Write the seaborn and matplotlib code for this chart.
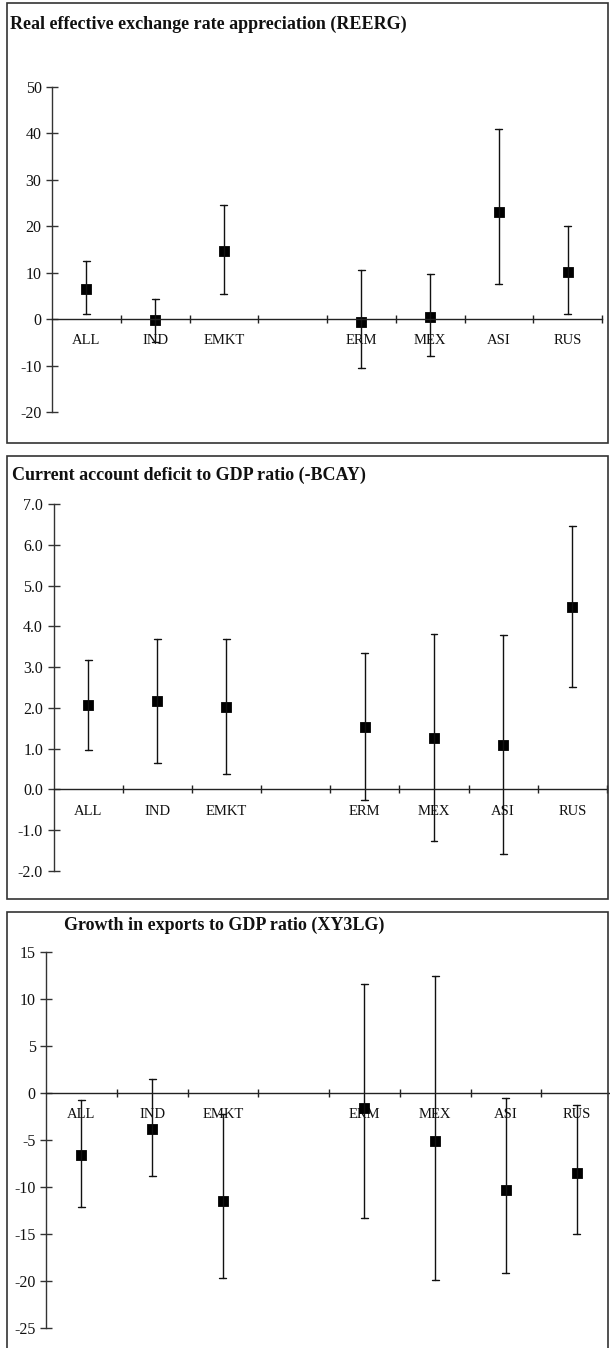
import numpy as np
import pandas as pd
import matplotlib
matplotlib.use("Agg")
import matplotlib.pyplot as plt
import matplotlib.patches as mpatches
from matplotlib.ticker import FormatStrFormatter, FixedLocator
import seaborn as sns

# ---------------- data ----------------
categories = ['ALL', 'IND', 'EMKT', 'ERM', 'MEX', 'ASI', 'RUS']
order = ['ALL', 'IND', 'EMKT', ' ', 'ERM', 'MEX', 'ASI', 'RUS']

reerg_mid = [6.5, -0.2, 14.6, -0.7, 0.5, 23.0, 10.2]
reerg_low = [1.0, -4.9, 5.4, -10.5, -8.0, 7.5, 1.2]
reerg_high = [12.5, 4.3, 24.6, 10.5, 9.7, 41.0, 20.1]

bcay_mid = [2.06, 2.16, 2.03, 1.54, 1.26, 1.10, 4.48]
bcay_low = [0.97, 0.64, 0.37, -0.26, -1.26, -1.58, 2.50]
bcay_high = [3.17, 3.70, 3.68, 3.35, 3.81, 3.79, 6.47]

xy3lg_mid = [-6.6, -3.8, -11.5, -1.6, -5.1, -10.3, -8.5]
xy3lg_low = [-12.1, -8.8, -19.7, -13.3, -19.9, -19.2, -15.0]
xy3lg_high = [-0.7, 1.5, -2.2, 11.6, 12.4, -0.5, -1.3]

titles = ['Real effective exchange rate appreciation (REERG)',
          'Current account deficit to GDP ratio (-BCAY)',
          'Growth in exports to GDP ratio (XY3LG)']
yticks_list = [list(range(-20, 51, 10)),
               [-2.0, -1.0, 0.0, 1.0, 2.0, 3.0, 4.0, 5.0, 6.0, 7.0],
               list(range(-25, 16, 5))]

# ---------------- style ----------------
sns.set_style("white")
plt.rcParams['font.family'] = ['Liberation Serif', 'DejaVu Serif']
plt.rcParams['axes.unicode_minus'] = False

W, H = 610, 1348
fig = plt.figure(figsize=(W / 100, H / 100), dpi=100)


def frac_rect(left, right, top, bottom):
    return [left / W, 1 - bottom / H, (right - left) / W, (bottom - top) / H]


# axes pixel layout (left, right, top, bottom)
ax_px = [(52, 602, 87, 412), (53.5, 607, 504, 871), (46, 612, 952, 1328)]
box_px = [(7, 608, 3, 443), (7, 608, 456, 899), (7, 608, 912, 1360)]
title_px = [(10, 24), (12, 475), (64, 925)]
ylims = [(-20, 50), (-2.0, 7.0), (-25, 15)]
fmts = ['%d', '%.1f', '%d']

series = [(reerg_low, reerg_mid, reerg_high),
          (bcay_low, bcay_mid, bcay_high),
          (xy3lg_low, xy3lg_mid, xy3lg_high)]

for i in range(3):
    low, mid, high = series[i]
    df = pd.DataFrame({
        'cat': categories * 3,
        'val': list(low) + list(mid) + list(high),
    })
    ax = fig.add_axes(frac_rect(*ax_px[i]))
    sns.pointplot(data=df, x='cat', y='val', order=order, ax=ax,
                  estimator='median',
                  errorbar=lambda v: (np.min(v), np.max(v)),
                  color='black', markers='s', markersize=5.2,
                  linestyle='none', capsize=0.1,
                  err_kws={'linewidth': 1.0, 'color': '#111111'})
    ax.set_xlim(-0.5, 7.5)
    ax.set_ylim(*ylims[i])
    ax.set_xlabel('')
    ax.set_ylabel('')
    for s in ['top', 'right']:
        ax.spines[s].set_visible(False)
    ax.spines['bottom'].set_position(('data', 0))
    ax.spines['left'].set_color('#333333')
    ax.spines['bottom'].set_color('#222222')
    ax.spines['left'].set_linewidth(1.0)
    ax.spines['bottom'].set_linewidth(1.0)

    # y ticks
    ax.yaxis.set_major_locator(FixedLocator(yticks_list[i]))
    ax.yaxis.set_major_formatter(FormatStrFormatter(fmts[i]))
    ax.tick_params(axis='y', which='major', direction='inout', length=9,
                   width=1, color='#333333', labelsize=11.5, pad=3,
                   left=True, labelcolor='#111111')

    # x ticks: boundaries as major ticks, labels at centres as minor
    ax.set_xticks(np.arange(0.5, 7.6, 1.0))
    ax.set_xticklabels([''] * 8)
    ax.set_xticks(np.arange(0, 8), labels=order, minor=True)
    ax.tick_params(axis='x', which='major', direction='inout', length=6,
                   width=1, color='#222222', bottom=True)
    ax.tick_params(axis='x', which='minor', length=0, labelsize=10.5,
                   pad=11, labelcolor='#111111')
    ax.grid(False)
    ax.set_facecolor('none')

    # panel box
    l, r, t, b = box_px[i]
    fig.patches.append(mpatches.Rectangle((l / W, 1 - b / H), (r - l) / W, (b - t) / H,
                                          fill=False, edgecolor='#333333', linewidth=1.2,
                                          transform=fig.transFigure, figure=fig))
    tx, ty = title_px[i]
    fig.text(tx / W, 1 - ty / H, titles[i], ha='left', va='center',
             fontsize=13, fontweight='bold', color='#111111')

fig.savefig('out.png', dpi=100)
